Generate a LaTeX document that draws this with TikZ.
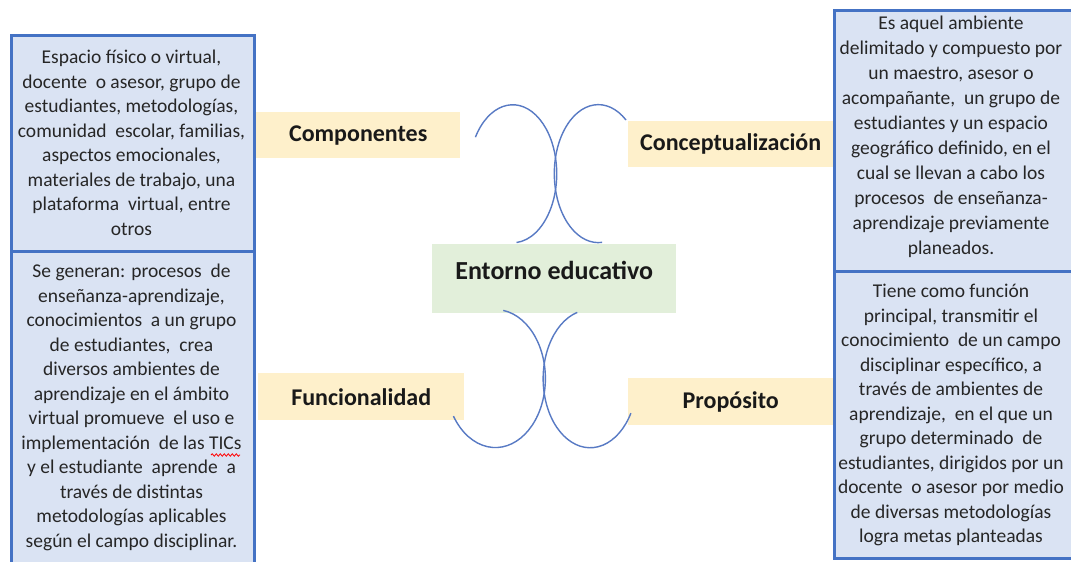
\documentclass[tikz,border=0pt]{standalone}
\usepackage{fontspec}
\setmainfont{Carlito}
\usetikzlibrary{positioning, decorations.pathmorphing}
\definecolor{boxblue}{RGB}{68,114,196}
\definecolor{boxfill}{RGB}{218,227,243}
\definecolor{tagfill}{RGB}{254,240,203}
\definecolor{corefill}{RGB}{226,239,218}
\definecolor{arcblue}{RGB}{88,122,196}
\definecolor{inktext}{RGB}{38,38,38}

\begin{document}
\begin{tikzpicture}[x=1pt, y=-1pt,
  infobox/.style={draw=boxblue, fill=boxfill, line width=3pt, anchor=north west, inner sep=0pt},
  infotext/.style={align=center, inner sep=0pt, text=inktext, font=\fontsize{19.5}{24.5}\selectfont},
  tag/.style={fill=tagfill, anchor=north west, inner sep=0pt, text=black!90, font=\fontsize{24}{28}\selectfont\bfseries},
  corebox/.style={fill=corefill, anchor=north west, inner sep=0pt, text=black!90, font=\fontsize{26}{30}\selectfont\bfseries},
  arcline/.style={draw=arcblue, line width=1.4pt}]
  \useasboundingbox (0,0) rectangle (1071,562);
  \clip (0,0) rectangle (1071,562);
  \fill[white] (0,0) rectangle (1071,562);

  % side boxes
  \node[infobox, minimum width=243pt, minimum height=216pt] (compbox) at (10,34) {};
  \node[infobox, minimum width=243pt, minimum height=330pt] (funcbox) at (10,250) {};
  \node[infobox, minimum width=250pt, minimum height=261pt] (concbox) at (833,9) {};
  \node[infobox, minimum width=250pt, minimum height=287pt] (propbox) at (833,270) {};

  \node[infotext] (comptext) at (131.5,143) {
    Espacio físico o virtual,\\ docente\ \ o asesor, grupo de\\ estudiantes, metodologías,\\
    comunidad\ \ escolar, familias,\\ aspectos emocionales,\\ materiales de trabajo, una\\
    plataforma\ \ virtual, entre\\ otros
  };
  \node[infotext] (functext) at (131.5,407.5) {
    Se generan: procesos\ \ de\\ enseñanza-aprendizaje,\\ conocimientos\ \ a un grupo\\
    de estudiantes,\ \ crea\\ diversos ambientes de\\ aprendizaje en el ámbito\\
    virtual promueve\ \ el uso e\\ implementación\ \ de las TICs\\ y el estudiante\ \ aprende\ \ a\\
    través de distintas\\ metodologías aplicables\\ según el campo disciplinar.
  };
  \node[infotext, font=\fontsize{19.5}{25}\selectfont] (conctext) at (951,137) {
    Es aquel ambiente\\ delimitado y compuesto por\\ un maestro, asesor o\\
    acompañante,\ \ un grupo de\\ estudiantes y un espacio\\ geográfico definido, en el\\
    cual se llevan a cabo los\\ procesos\ \ de enseñanza-\\ aprendizaje previamente\\ planeados.
  };
  \node[infotext] (proptext) at (951,415) {
    Tiene como función\\ principal, transmitir el\\ conocimiento\ \ de un campo\\
    disciplinar específico, a\\ través de ambientes de\\ aprendizaje,\ \ en el que un\\
    grupo determinado\ \ de\\ estudiantes, dirigidos por un\\ docente\ \ o asesor por medio\\
    de diversas metodologías\\ logra metas planteadas
  };
  % spell-check mark under TICs
  \draw[red, line width=0.8pt, decorate, decoration={snake, amplitude=1.2pt, segment length=4pt}] (211,455) -- (240,455);

  % labels
  \node[tag, minimum width=204pt, minimum height=46pt] (comp) at (256,112) {Componentes};
  \node[tag, minimum width=205pt, minimum height=46pt] (conc) at (628,121) {Conceptualización};
  \node[tag, minimum width=206pt, minimum height=47pt] (func) at (258,373) {Funcionalidad};
  \node[tag, minimum width=205pt, minimum height=47pt] (prop) at (628,378) {Propósito};
  \node[corebox, minimum width=244pt, minimum height=69pt] (core) at (432,244) {\raisebox{16pt}{Entorno educativo}};

  % arcs
  \draw[arcline] (comp.east) ++(15,2) arc[start angle=212, end angle=445, x radius=44, y radius=69];
  \draw[arcline] (conc.north west) ++(-2,-1) arc[start angle=309, end angle=85, x radius=44, y radius=69];
  \draw[arcline] (core.south) ++(-51,-3) arc[start angle=279, end angle=507, x radius=50, y radius=69];
  \draw[arcline] (core.south) ++(23,-1) arc[start angle=254, end angle=30, x radius=47, y radius=69];
\end{tikzpicture}
\end{document}
